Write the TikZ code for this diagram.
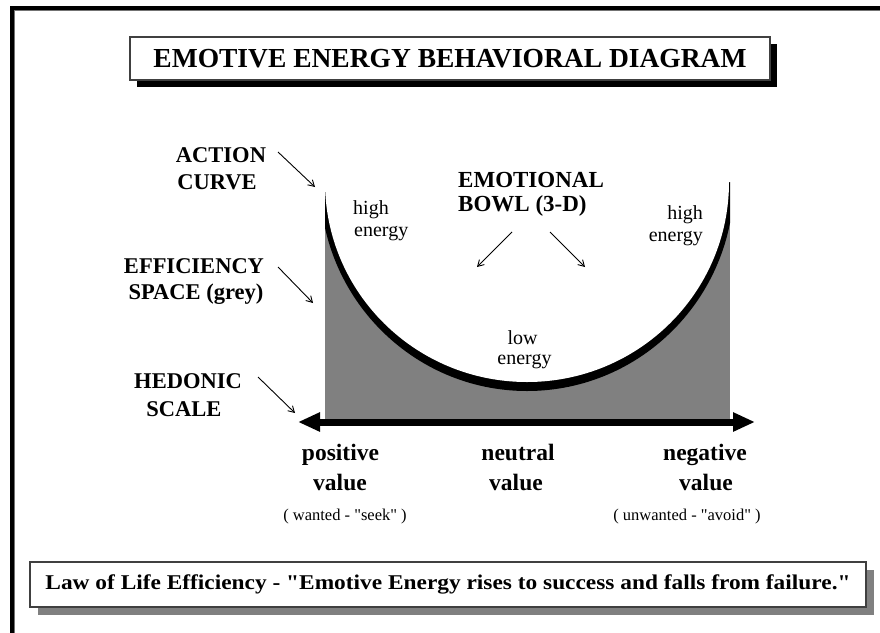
\documentclass[tikz,border=0pt]{standalone}
\usepackage{fontspec}
\setmainfont{Liberation Serif}[Ligatures=TeXOff]
\usetikzlibrary{arrows.meta,shadows}
\begin{document}
\begin{tikzpicture}[x=1pt,y=-1pt,
  lab/.style={inner sep=0pt, anchor=base, font=\fontsize{22.5}{27}\selectfont\bfseries},
  ptr/.style={line width=0.9pt, -{Straight Barb[length=6pt,width=7pt]}},
  en/.style={inner sep=0pt, font=\fontsize{20}{24}\selectfont},
  val/.style={inner sep=0pt, anchor=base, font=\fontsize{23.5}{28}\selectfont\bfseries},
  note/.style={inner sep=0pt, anchor=base, font=\fontsize{16.5}{20}\selectfont},
  boxed/.style={draw=black!75, line width=1.4pt, fill=white, inner sep=0pt}]
\fill[white] (0,0) rectangle (880,632);
\useasboundingbox (0,0) rectangle (880,632);
% frame
\draw[line width=4pt] (12,640) -- (12,8) -- (890,8);
\draw[black!55, line width=1pt] (14.5,640) -- (14.5,10.5) -- (890,10.5);
% title
\node[boxed, minimum width=640pt, minimum height=43pt,
  drop shadow={fill=black, opacity=1, shadow xshift=7pt, shadow yshift=-7pt},
  font=\fontsize{27.5}{30}\selectfont\bfseries] (title) at (450,58.5)
  {EMOTIVE ENERGY BEHAVIORAL DIAGRAM};
% bowl
\begin{scope}
\clip (325,182) rectangle (730,420);
\fill[black!50] (325,182) rectangle (730,420);
\fill[black] (527,182) ellipse [x radius=207pt, y radius=209pt];
\fill[white] (527,182) ellipse [x radius=202pt, y radius=200pt];
\end{scope}
% hedonic axis
\coordinate (axl) at (298,422);
\coordinate (axr) at (755,422);
\draw[line width=7pt, {Triangle[length=22pt,width=18pt]}-{Triangle[length=22pt,width=18pt]}] (axl) -- (axr);
% left labels
\node[lab] (act1) at (221,162) {ACTION};
\node[lab] (act2) at (217,189) {CURVE};
\node[lab] (eff1) at (194,273) {EFFICIENCY};
\node[lab] (eff2) at (196,299) {SPACE (grey)};
\node[lab] (hed1) at (188,388) {HEDONIC};
\node[lab] (hed2) at (184,416) {SCALE};
\node[lab, anchor=base west, font=\fontsize{23}{27}\selectfont\bfseries] (emo1) at (458,187) {EMOTIONAL};
\node[lab, anchor=base west, font=\fontsize{23}{27}\selectfont\bfseries] (emo2) at (458,211) {BOWL (3-D)};
% pointer arrows
\coordinate (p1s) at (278,152); \coordinate (p1e) at (315,187);
\coordinate (p2s) at (278,267); \coordinate (p2e) at (313,303);
\coordinate (p3s) at (258,377); \coordinate (p3e) at (295,413);
\coordinate (p4s) at (512,232); \coordinate (p4e) at (477,267);
\coordinate (p5s) at (550,232); \coordinate (p5e) at (585,267);
\draw[ptr] (p1s) -- (p1e);
\draw[ptr] (p2s) -- (p2e);
\draw[ptr] (p3s) -- (p3e);
\draw[ptr] (p4s) -- (p4e);
\draw[ptr] (p5s) -- (p5e);
% energy labels
\node[en, anchor=base west] (hl1) at (353,214) {high};
\node[en, anchor=base west] (hl2) at (354,236) {energy};
\node[en, anchor=base east] (hr1) at (703,219) {high};
\node[en, anchor=base east] (hr2) at (703,241) {energy};
\node[en, anchor=base] (lo1) at (522.5,344) {low};
\node[en, anchor=base] (lo2) at (524.5,364) {energy};
% values
\node[val] (pos1) at (340.5,460) {positive};
\node[val] (pos2) at (340,490) {value};
\node[val] (neu1) at (518,460) {neutral};
\node[val] (neu2) at (516,490) {value};
\node[val] (neg1) at (705,460) {negative};
\node[val] (neg2) at (706,490) {value};
\node[note] (want) at (345,520) {( wanted - "seek" )};
\node[note] (unwant) at (687,520) {( unwanted - "avoid" )};
% law box
\node[boxed, minimum width=836pt, minimum height=45pt,
  drop shadow={fill=black!50, opacity=1, shadow xshift=8pt, shadow yshift=-8pt},
  font=\fontsize{21}{24}\selectfont\bfseries] (law) at (448,584.5)
  {\resizebox{805pt}{\height}{Law of Life Efficiency - "Emotive Energy rises to success and falls from failure."}};
\end{tikzpicture}
\end{document}
